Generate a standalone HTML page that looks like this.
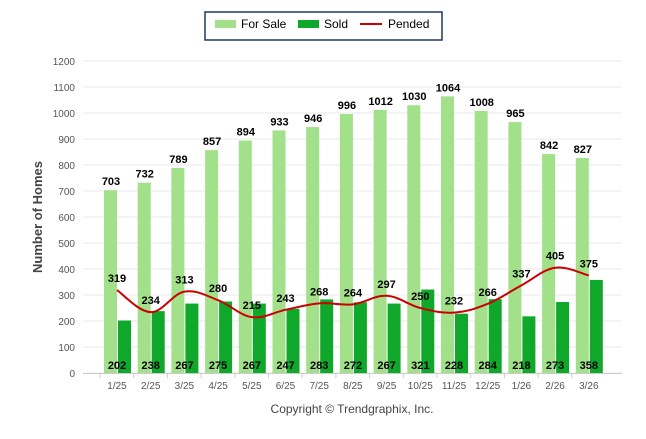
<!DOCTYPE html>
<html><head><meta charset="utf-8"><style>
body{margin:0;background:#fff;font-family:"Liberation Sans",Arial,sans-serif}
svg text{font-family:"Liberation Sans",Arial,sans-serif}
</style></head><body>
<svg id="c" width="646" height="434" xmlns="http://www.w3.org/2000/svg">
<g>
<rect x="205" y="12" width="237" height="28" fill="#fff" stroke="#1f3864" stroke-width="1.5"/>
<rect x="215" y="20" width="21" height="8" fill="#a2e08a"/>
<text x="241" y="28" font-size="12" fill="#000">For Sale</text>
<rect x="298" y="20" width="21" height="8" fill="#0fa82a"/>
<text x="324" y="28" font-size="12" fill="#000">Sold</text>
<line x1="360" y1="24" x2="382" y2="24" stroke="#cc0000" stroke-width="2"/>
<text x="388" y="28" font-size="12" fill="#000">Pended</text>
</g>
<text transform="translate(42,217) rotate(-90)" text-anchor="middle" font-size="13" font-weight="bold" fill="#444">Number of Homes</text>
<text x="352" y="413" text-anchor="middle" font-size="12" fill="#444">Copyright © Trendgraphix, Inc.</text>
<g id="grid"></g><g id="bars"></g><g id="line"></g><g id="labels"></g>
</svg>
<script>
const categories=["1/25","2/25","3/25","4/25","5/25","6/25","7/25","8/25","9/25","10/25","11/25","12/25","1/26","2/26","3/26"];
const forSale=[703,732,789,857,894,933,946,996,1012,1030,1064,1008,965,842,827];
const sold=[202,238,267,275,267,247,283,272,267,321,228,284,218,273,358];
const pended=[319,234,313,280,215,243,268,264,297,250,232,266,337,405,375];
const yTicks=[0,100,200,300,400,500,600,700,800,900,1000,1100,1200];
const NS="http://www.w3.org/2000/svg";
const y=v=>373-v*0.26;
const x=i=>117+i*33.7;
function mk(t,a,p){const e=document.createElementNS(NS,t);for(const k in a)e.setAttribute(k,a[k]);p.appendChild(e);return e;}
const grid=document.getElementById('grid'),bars=document.getElementById('bars'),line=document.getElementById('line'),labels=document.getElementById('labels');
yTicks.forEach(v=>{
 const g=mk('line',{x1:83,x2:622,y1:y(v),y2:y(v),stroke:'#e8e8e8'},grid);
 
 
 const t=mk('text',{x:75,y:y(v)+4,'text-anchor':'end','font-size':10,fill:'#555'},grid);t.textContent=v;
 
 
});
mk('line',{x1:83,x2:622,y1:373.5,y2:373.5,stroke:'#ccc'},grid);
categories.forEach((c,i)=>{
 const tk=mk('line',{x1:x(i)-17,x2:x(i)-17,y1:374,y2:378,stroke:'#ccc'},grid);
 
 
 const t=mk('text',{x:x(i),y:389,'text-anchor':'middle','font-size':10,fill:'#555'},grid);t.textContent=c;
 
 
 const b1=mk('rect',{x:x(i)-13,y:y(forSale[i]),width:13,height:373-y(forSale[i]),fill:'#a2e08a'},bars);
 
 
 const b2=mk('rect',{x:x(i)+1,y:y(sold[i]),width:13,height:373-y(sold[i]),fill:'#0fa82a'},bars);
 
 
 const l1=mk('text',{x:x(i)-6,y:y(forSale[i])-5,'text-anchor':'middle','font-size':11,'font-weight':'bold'},labels);l1.textContent=forSale[i];
 
 
 const l2=mk('text',{x:x(i),y:369,'text-anchor':'middle','font-size':11,'font-weight':'bold'},labels);l2.textContent=sold[i];
 
 
 const l3=mk('text',{x:x(i),y:y(pended[i])-8,'text-anchor':'middle','font-size':11,'font-weight':'bold'},labels);l3.textContent=pended[i];
 
 
});
const pts=pended.map((v,i)=>[x(i),y(v)]);
let d='M'+pts[0][0]+','+pts[0][1];
for(let i=0;i<pts.length-1;i++){
 const p0=pts[Math.max(0,i-1)],p1=pts[i],p2=pts[i+1],p3=pts[Math.min(pts.length-1,i+2)];
 const k=0.18;
 d+=` C${p1[0]+(p2[0]-p0[0])*k},${p1[1]+(p2[1]-p0[1])*k} ${p2[0]-(p3[0]-p1[0])*k},${p2[1]-(p3[1]-p1[1])*k} ${p2[0]},${p2[1]}`;
}
const pl=mk('path',{d:d,fill:'none',stroke:'#cc0000','stroke-width':2},line);


</script>
</body></html>
